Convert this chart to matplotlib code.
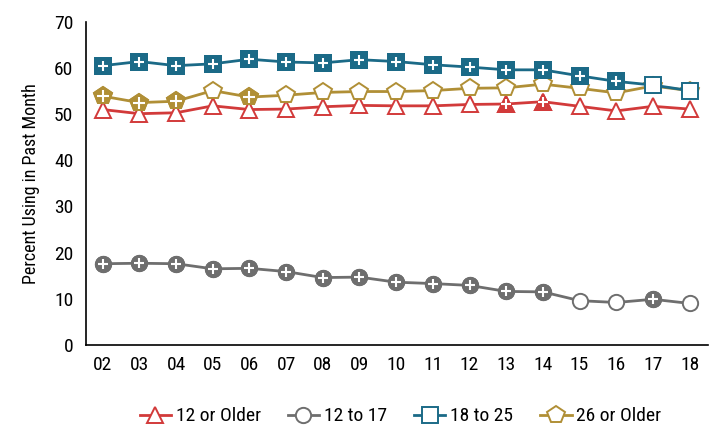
import matplotlib
matplotlib.use("agg")
import matplotlib.pyplot as plt
from matplotlib import font_manager

years = ["02", "03", "04", "05", "06", "07", "08", "09", "10",
         "11", "12", "13", "14", "15", "16", "17", "18"]

older_12 = [51.0, 50.1, 50.3, 51.8, 51.0, 51.1, 51.6, 51.9, 51.8,
            51.8, 52.1, 52.2, 52.7, 51.7, 50.7, 51.7, 51.1]
age_12_17 = [17.6, 17.7, 17.6, 16.5, 16.6, 15.9, 14.6, 14.7, 13.6,
             13.3, 12.9, 11.6, 11.5, 9.6, 9.2, 9.9, 9.0]
age_18_25 = [60.5, 61.4, 60.5, 60.9, 61.9, 61.3, 61.1, 61.8, 61.4,
             60.7, 60.2, 59.6, 59.6, 58.3, 57.1, 56.3, 55.1]
older_26 = [53.9, 52.5, 52.8, 55.1, 53.7, 54.1, 54.7, 54.9, 54.9,
            55.1, 55.6, 55.7, 56.5, 55.6, 54.6, 56.1, 55.1]

# points that differ significantly from 2018 (drawn filled with a plus)
sig_12_older = [11, 12]
sig_12_17 = list(range(13)) + [15]
sig_18_25 = list(range(15))
sig_26_older = [0, 1, 2, 4]

names = {f.name for f in font_manager.fontManager.ttflist}
family = "DejaVu Sans"
for cand in ["Liberation Sans Narrow", "Nimbus Sans Narrow", "Roboto Condensed",
             "Archivo Narrow", "Barlow Semi Condensed"]:
    if cand in names:
        family = cand
        break
plt.rcParams["font.family"] = [family, "DejaVu Sans"]

series = [
    ("12 or Older", older_12, sig_12_older, "#d23a3a", "^", 12),
    ("12 to 17", age_12_17, sig_12_17, "#6e6e6e", "o", 11),
    ("26 or Older", older_26, sig_26_older, "#b08f36", "p", 13),
    ("18 to 25", age_18_25, sig_18_25, "#1b6a87", "s", 12),
]

fig = plt.figure(figsize=(7.09, 4.28), dpi=100)
ax = fig.add_axes([0.121, 0.194, 0.877, 0.755])
x = list(range(len(years)))

handles = {}
for z, (label, vals, sig, color, marker, ms) in enumerate(series):
    (h,) = ax.plot(x, vals, color=color, lw=2.0, marker=marker, ms=ms,
                   mfc="white", mec=color, mew=1.4, zorder=3 + z * 2, label=label)
    handles[label] = h
    sx = [x[i] for i in sig]
    sy = [vals[i] for i in sig]
    ax.plot(sx, sy, ls="none", marker=marker, ms=ms, mfc=color, mec=color,
            mew=1.4, zorder=3 + z * 2)
    ax.plot(sx, sy, ls="none", marker="+", ms=ms * 0.62, mec="white",
            mew=1.5, zorder=4 + z * 2)

ax.set_xlim(-0.46, 16.49)
ax.set_ylim(0, 70)
ax.set_yticks(range(0, 71, 10))
ax.set_xticks(x)
ax.set_xticklabels(years)
ax.tick_params(length=0, labelsize=14, pad=8)
ax.tick_params(axis="y", pad=9)
ax.spines["top"].set_visible(False)
ax.spines["right"].set_visible(False)
ax.spines["left"].set_linewidth(1.2)
ax.spines["bottom"].set_linewidth(1.2)
ax.set_ylabel("Percent Using in Past Month", fontsize=13, labelpad=10)

order = ["12 or Older", "12 to 17", "18 to 25", "26 or Older"]
fig.legend([handles[k] for k in order], order, loc="lower center",
           bbox_to_anchor=(0.565, -0.035), ncol=4, frameon=False,
           fontsize=14, handlelength=1.6, columnspacing=1.4, handletextpad=0.25)

fig.savefig("out.png", dpi=100)
